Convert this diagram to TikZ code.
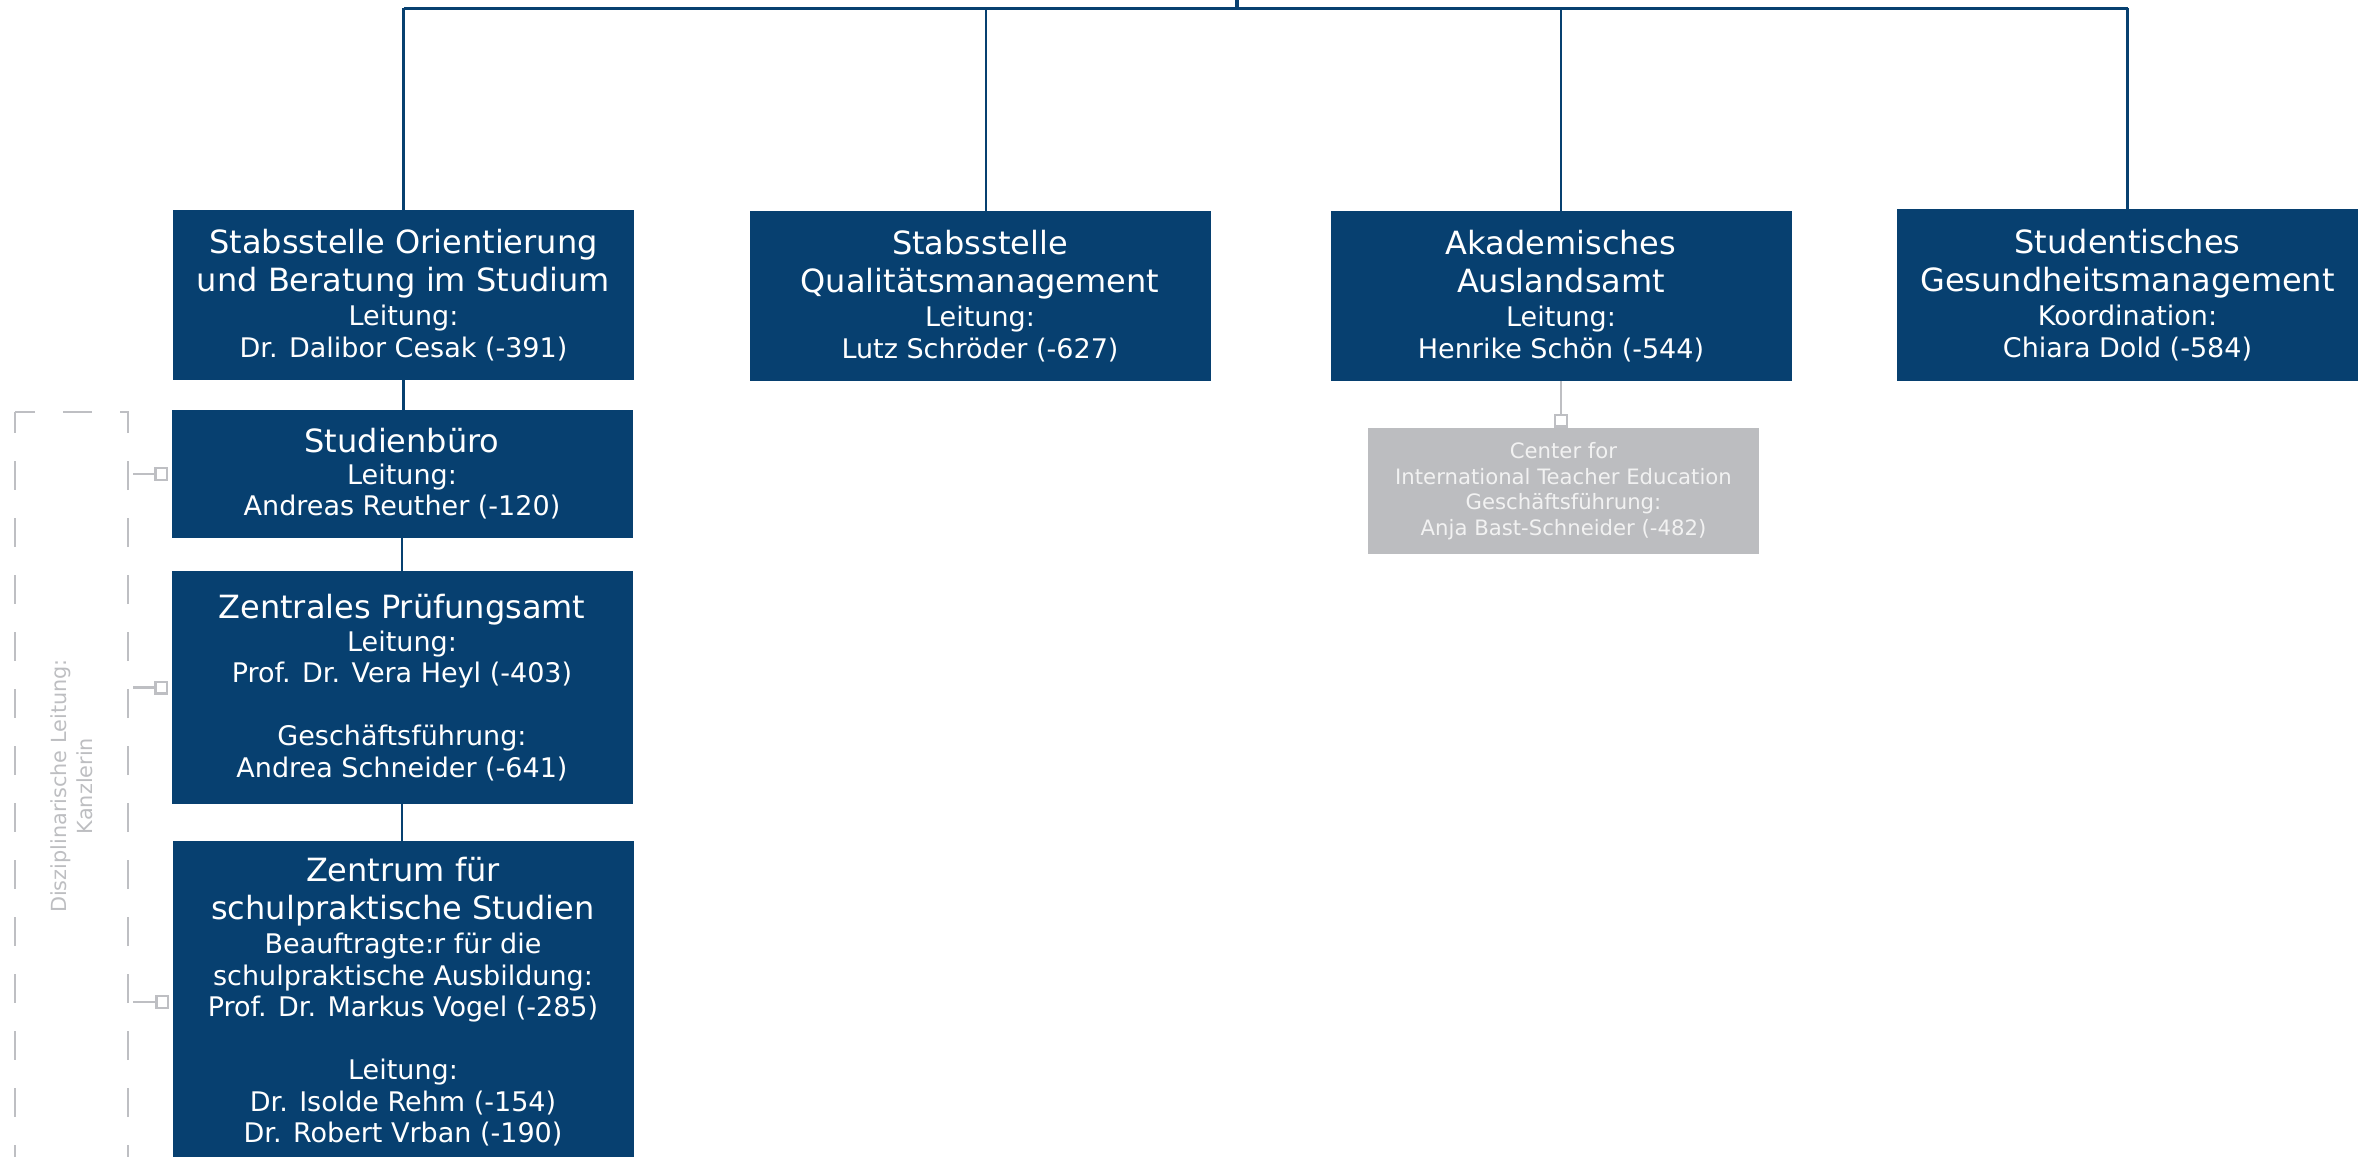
\documentclass[tikz,border=0pt]{standalone}
\usepackage{fontspec}
\setmainfont{DejaVu Sans}
\usetikzlibrary{arrows.meta,calc}
\definecolor{uniblue}{RGB}{7,64,112}
\definecolor{boxgray}{RGB}{188,189,192}
\definecolor{linegray}{RGB}{190,191,195}
\definecolor{softgray}{RGB}{189,190,193}
\definecolor{itetext}{RGB}{242,242,242}
\newcommand\ttlfont{\fontsize{32}{37}\selectfont}
\begin{document}
\begin{tikzpicture}[x=1pt,y=-1pt,
  orgbox/.style={fill=uniblue, text=white, align=center, inner sep=0pt,
    minimum width=461pt, font=\fontsize{27}{31.5}\selectfont},
  subbox/.style={fill=boxgray, text=itetext, align=center, inner sep=0pt,
    minimum width=391pt, minimum height=126pt, font=\fontsize{21.2}{25.5}\selectfont},
  groupbox/.style={draw=linegray, line width=2.6pt, dash pattern=on 29pt off 28pt,
    dash phase=8pt, rotate=90, minimum width=748pt, minimum height=113pt,
    inner sep=0pt, align=center, text=softgray, font=\fontsize{20.8}{25.5}\selectfont},
  barline/.style={draw=uniblue, line width=3.4pt},
  treeline/.style={draw=uniblue, line width=2.2pt},
  sqline/.style={draw=linegray, line width=2.4pt,
    -{Square[open, length=14pt, width=14pt]}}
]
\useasboundingbox (0,0) rectangle (2360,1156);
\clip (0,0) rectangle (2360,1156);

% top level boxes
\node[orgbox, minimum height=170pt] (b1) at (403.5,295)
  {{\ttlfont Stabsstelle Orientierung}\\[6pt]{\ttlfont und Beratung im Studium}\\[3pt]Leitung:\\Dr. Dalibor Cesak (-391)};
\node[orgbox, minimum height=170pt] (b2) at (980,296)
  {{\ttlfont Stabsstelle}\\[6pt]{\ttlfont Qualitätsmanagement}\\[3pt]Leitung:\\Lutz Schröder (-627)};
\node[orgbox, minimum height=170pt] (b3) at (1561,296)
  {{\ttlfont Akademisches}\\[6pt]{\ttlfont Auslandsamt}\\[3pt]Leitung:\\Henrike Schön (-544)};
\node[orgbox, minimum height=172pt] (b4) at (2127.5,295)
  {{\ttlfont Studentisches}\\[6pt]{\ttlfont Gesundheitsmanagement}\\[3pt]Koordination:\\Chiara Dold (-584)};

% stacked boxes
\node[orgbox, minimum height=128pt] (stud) at (402,474)
  {{\ttlfont Studienbüro}\\Leitung:\\Andreas Reuther (-120)};
\node[orgbox, minimum height=233pt] (pruef) at (402,687.5)
  {{\ttlfont Zentrales Prüfungsamt}\\[1.5pt]Leitung:\\Prof. Dr. Vera Heyl (-403)\\[31.5pt]Geschäftsführung:\\Andrea Schneider (-641)};
\node[orgbox, minimum height=322pt] (zent) at (403,1002)
  {{\ttlfont Zentrum für}\\[6pt]{\ttlfont schulpraktische Studien}\\[3pt]Beauftragte:r für die\\schulpraktische Ausbildung:\\Prof. Dr. Markus Vogel (-285)\\[31.5pt]Leitung:\\Dr. Isolde Rehm (-154)\\Dr. Robert Vrban (-190)};

% sub unit
\node[subbox] (ite) at (1563.5,491)
  {Center for\\International Teacher Education\\Geschäftsführung:\\Anja Bast-Schneider (-482)};

% group frame
\node[groupbox] (disz) at (71.5,786) {Disziplinarische Leitung:\\Kanzlerin};

% tree connectors
\coordinate (parent) at (1237,0);
\coordinate (top) at (1237,8.5);
\draw[barline] (parent) -- (top);
\draw[barline] (top -| b1.north) -- (top -| b4.north);
\draw[treeline] (b1.north) -- (b1.north |- top);
\draw[treeline] ([xshift=6pt]b2.north) -- ([xshift=6pt]b2.north |- top);
\draw[treeline] (b3.north) -- (b3.north |- top);
\draw[treeline] (b4.north) -- (b4.north |- top);
\draw[treeline] (b1.south) -- (b1.south |- stud.north);
\draw[treeline] (stud.south) -- (pruef.north);
\draw[treeline] (pruef.south) -- (pruef.south |- zent.north);

% gray connectors
\draw[sqline] (b3.south) -- (b3.south |- ite.north);
\draw[sqline, shorten <=4pt, shorten >=3pt] (disz.south |- stud.west) -- (stud.west);
\draw[sqline, shorten <=4pt, shorten >=3pt] (disz.south |- pruef.west) -- (pruef.west);
\draw[sqline, shorten <=4pt, shorten >=3pt] (disz.south |- zent.west) -- (zent.west);
\end{tikzpicture}
\end{document}
